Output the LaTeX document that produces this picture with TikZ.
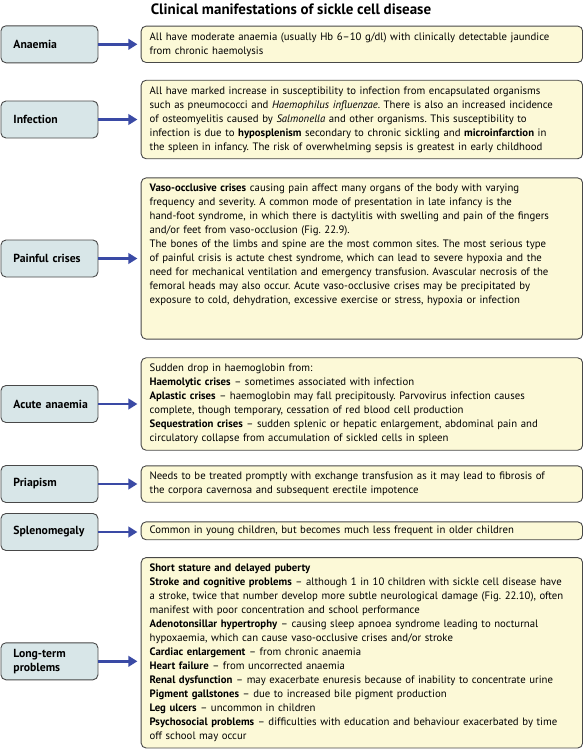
\documentclass[tikz,border=0pt]{standalone}
\usepackage{fontspec}
\setmainfont{PT Sans}
\usepackage{tikz}
\usetikzlibrary{arrows.meta,positioning}
\definecolor{catfill}{RGB}{216,230,232}
\definecolor{descfill}{RGB}{252,249,215}
\definecolor{edgegray}{RGB}{72,72,72}
\definecolor{linkblue}{RGB}{58,74,165}
\frenchspacing

\begin{document}
\begin{tikzpicture}[x=1pt, y=1pt,
  every node/.style={font=\fontsize{10.75}{14}\selectfont},
  cat/.style={draw=edgegray, fill=catfill, rounded corners=5pt, line width=0.9pt,
    text width=72pt, inner xsep=12.5pt, minimum height=37pt, align=left,
    font=\fontsize{11.7}{14}\selectfont\bfseries},
  desc/.style={draw=edgegray, fill=descfill, rounded corners=5pt, line width=0.9pt,
    text width=424.5pt, inner xsep=8.5pt, inner ysep=6.3pt, align=left},
  link/.style={draw=linkblue, line width=2.6pt, -{Triangle[length=9pt,width=10.5pt]}, shorten >=3.3pt}]
\useasboundingbox (0,0) rectangle (583,-750);
\node[font=\fontsize{15}{18}\selectfont\bfseries] (title) at (291,-9.3) {Clinical manifestations of sickle cell disease};

% left column
\node[cat, anchor=west] (anaemia) at (0.5,-44.3) {Anaemia};
\node[cat, anchor=west] (infection) at (0.5,-119.5) {Infection};
\node[cat, anchor=west] (painful) at (0.5,-258.5) {Painful~crises};
\node[cat, anchor=west] (acute) at (0.5,-404) {Acute~anaemia};
\node[cat, anchor=west] (priapism) at (0.5,-484) {Priapism};
\node[cat, anchor=west] (spleno) at (0.5,-532) {Splenomegaly};
\node[cat, anchor=west] (longterm) at (0.5,-661.3) {Long-term\\problems};

% right column
\node[desc, right=42.3pt of anaemia] (anaemiaTxt) {All have moderate anaemia (usually Hb 6–10 g/dl) with clinically detectable jaundice\\
from chronic haemolysis};
\node[desc, right=42.3pt of infection] (infectionTxt) {All have marked increase in susceptibility to infection from encapsulated organisms\\
such as pneumococci and \textit{Haemophilus influenzae}. There is also an increased incidence\\
of osteomyelitis caused by \textit{Salmonella} and other organisms. This susceptibility to\\
infection is due to \textbf{hyposplenism} secondary to chronic sickling and \textbf{microinfarction} in\\
the spleen in infancy. The risk of overwhelming sepsis is greatest in early childhood};
\node[desc, right=42.3pt of painful] (painfulTxt) {\textbf{Vaso-occlusive crises} causing pain affect many organs of the body with varying\\
frequency and severity. A common mode of presentation in late infancy is the\\
hand-foot syndrome, in which there is dactylitis with swelling and pain of the fingers\\
and/or feet from vaso-occlusion (Fig. 22.9).\\
The bones of the limbs and spine are the most common sites. The most serious type\\
of painful crisis is actute chest syndrome, which can lead to severe hypoxia and the\\
need for mechanical ventilation and emergency transfusion. Avascular necrosis of the\\
femoral heads may also occur. Acute vaso-occlusive crises may be precipitated by\\
exposure to cold, dehydration, excessive exercise or stress, hypoxia or infection\\[15pt]\mbox{}};
\node[desc, right=42.3pt of acute] (acuteTxt) {Sudden drop in haemoglobin from:\\
\textbf{Haemolytic crises} – sometimes associated with infection\\
\textbf{Aplastic crises} – haemoglobin may fall precipitously. Parvovirus infection causes\\
complete, though temporary, cessation of red blood cell production\\
\textbf{Sequestration crises} – sudden splenic or hepatic enlargement, abdominal pain and\\
circulatory collapse from accumulation of sickled cells in spleen};
\node[desc, right=42.3pt of priapism] (priapismTxt) {Needs to be treated promptly with exchange transfusion as it may lead to fibrosis of\\
the corpora cavernosa and subsequent erectile impotence};
\node[desc, inner ysep=4pt, right=42.3pt of spleno, yshift=1.2pt] (splenoTxt) {Common in young children, but becomes much less frequent in older children};
\node[desc, right=42.3pt of longterm, yshift=8.5pt] (longtermTxt) {\textbf{Short stature and delayed puberty}\\
\textbf{Stroke and cognitive problems} – although 1 in 10 children with sickle cell disease have\\
a stroke, twice that number develop more subtle neurological damage (Fig. 22.10), often\\
manifest with poor concentration and school performance\\
\textbf{Adenotonsillar hypertrophy} – causing sleep apnoea syndrome leading to nocturnal\\
hypoxaemia, which can cause vaso-occlusive crises and/or stroke\\
\textbf{Cardiac enlargement} – from chronic anaemia\\
\textbf{Heart failure} – from uncorrected anaemia\\
\textbf{Renal dysfunction} – may exacerbate enuresis because of inability to concentrate urine\\
\textbf{Pigment gallstones} – due to increased bile pigment production\\
\textbf{Leg ulcers} – uncommon in children\\
\textbf{Psychosocial problems} – difficulties with education and behaviour exacerbated by time\\
off school may occur};

% arrows
\draw[link] (anaemia) -- (anaemia -| anaemiaTxt.west);
\draw[link] (infection) -- (infection -| infectionTxt.west);
\draw[link] (painful) -- (painful -| painfulTxt.west);
\draw[link] (acute) -- (acute -| acuteTxt.west);
\draw[link] (priapism) -- (priapism -| priapismTxt.west);
\draw[link] (spleno) -- (spleno -| splenoTxt.west);
\draw[link] (longterm) -- (longterm -| longtermTxt.west);
\end{tikzpicture}
\end{document}
